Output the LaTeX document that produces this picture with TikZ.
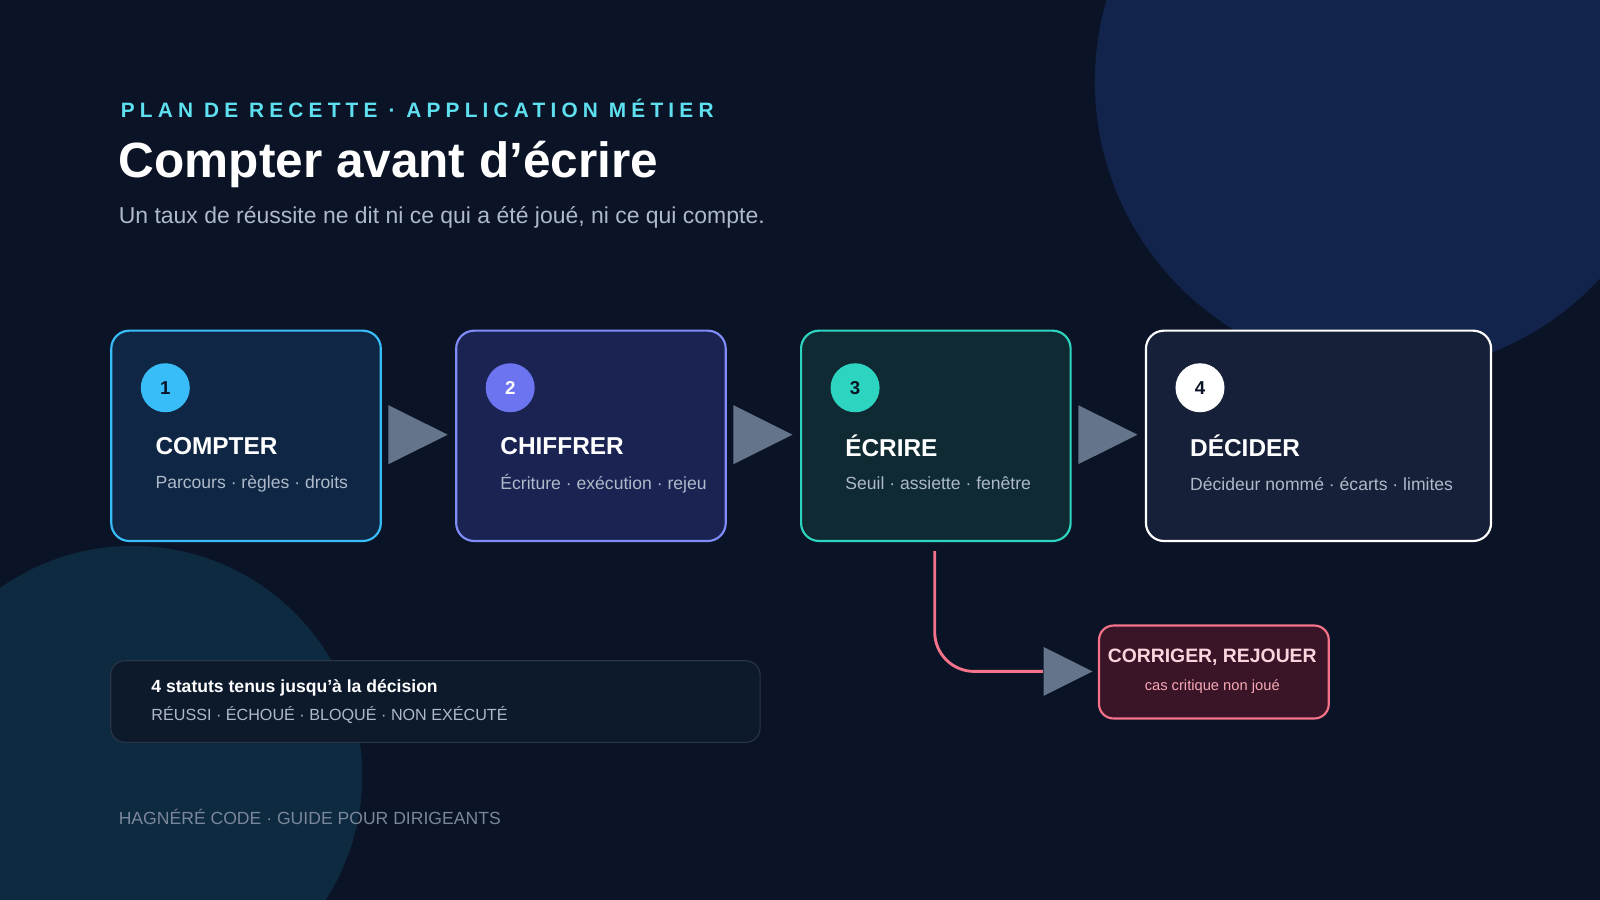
\documentclass[tikz,border=0pt]{standalone}
\usepackage{fontspec}
\setmainfont{Liberation Sans}
\newfontfamily\spaced[LetterSpace=25]{Liberation Sans}
\usetikzlibrary{shapes.geometric,positioning}
\definecolor{bgdark}{HTML}{0B1426}
\definecolor{blobblue}{HTML}{13244C}
\definecolor{blobteal}{HTML}{0E2A40}
\definecolor{kicker}{HTML}{5EE0F0}
\definecolor{subgray}{HTML}{AEB9CA}
\definecolor{arrowgray}{HTML}{64748B}
\definecolor{redline}{HTML}{F4728A}
\definecolor{cyanline}{HTML}{38BDF8}
\definecolor{cyanfill}{HTML}{0F2744}
\definecolor{violetline}{HTML}{818CF8}
\definecolor{violetfill}{HTML}{1A2352}
\definecolor{violetnum}{HTML}{6D74F0}
\definecolor{tealline}{HTML}{2DD4BF}
\definecolor{tealfill}{HTML}{0F2A33}
\definecolor{slatefill}{HTML}{162038}
\definecolor{redfill}{HTML}{3A1427}
\definecolor{redhead}{HTML}{FBD5DC}
\definecolor{redtext}{HTML}{F7A8B6}
\definecolor{noteline}{HTML}{2A3648}
\definecolor{notefill}{HTML}{0D1A2B}
\definecolor{footgray}{HTML}{7A879A}
\begin{document}
\begin{tikzpicture}[x=0.01cm,y=-0.01cm]
    \tikzstyle{stage}=[rounded corners=5pt, line width=0.6pt, minimum width=2.64cm, minimum height=2.06cm, anchor=north west]
    \tikzstyle{num}=[circle, minimum size=0.48cm, inner sep=0pt, font=\fontsize{5.2}{6}\selectfont\bfseries]
    \tikzstyle{head}=[anchor=west, text=white, font=\fontsize{6.8}{8}\selectfont\bfseries]
    \tikzstyle{desc}=[anchor=west, text=subgray, font=\fontsize{4.9}{6}\selectfont]
    \tikzstyle{pointer}=[isosceles triangle, isosceles triangle apex angle=53, fill=arrowgray, minimum height=0.58cm, inner sep=0pt, anchor=west]

    % background
    \useasboundingbox (0,0) rectangle (1568,882);
    \fill[bgdark] (0,0) rectangle (1568,882);
    \begin{scope}
      \clip (0,0) rectangle (1568,882);
      \fill[blobblue] (1358,80) circle (285);
      \fill[blobteal] (130,760) circle (225);
    \end{scope}

    % heading
    \node[anchor=west, text=kicker, font=\fontsize{5.8}{7}\selectfont\bfseries\spaced] (kick) at (106,106) {PLAN DE RECETTE · APPLICATION MÉTIER};
    \node[anchor=west, text=white, font=\fontsize{13.8}{16}\selectfont\bfseries] (title) at (104,161) {Compter avant d’écrire};
    \node[anchor=west, text=subgray, font=\fontsize{6.4}{8}\selectfont] (sub) at (104,213) {Un taux de réussite ne dit ni ce qui a été joué, ni ce qui compte.};

    % stages
    \node[stage, draw=cyanline, fill=cyanfill] (compter) at (108,323) {};
    \node[stage, draw=violetline, fill=violetfill] (chiffrer) at (446,323) {};
    \node[stage, draw=tealline, fill=tealfill] (ecrire) at (784,323) {};
    \node[stage, draw=white, fill=slatefill, minimum width=3.38cm] (decider) at (1122,323) {};

    \node[num, fill=cyanline, text=bgdark] (n1) at (162,380) {1};
    \node[num, fill=violetnum, text=white] (n2) at (500,380) {2};
    \node[num, fill=tealline, text=bgdark] (n3) at (838,380) {3};
    \node[num, fill=white, text=bgdark] (n4) at (1176,380) {4};

    \node[head] (compter head) at (140,437) {COMPTER};
    \node[desc] (compter desc) at (140,474) {Parcours · règles · droits};
    \node[head] (chiffrer head) at (478,437) {CHIFFRER};
    \node[desc] (chiffrer desc) at (478,474) {Écriture · exécution · rejeu};
    \node[head] (ecrire head) at (816,437) {ÉCRIRE};
    \node[desc] (ecrire desc) at (816,474) {Seuil · assiette · fenêtre};
    \node[head] (decider head) at (1154,437) {DÉCIDER};
    \node[desc] (decider desc) at (1154,474) {Décideur nommé · écarts · limites};

    \node[pointer] (p1) at (380,426) {};
    \node[pointer] (p2) at (718,426) {};
    \node[pointer] (p3) at (1056,426) {};

    % failure branch
    \node[rounded corners=4pt, line width=0.6pt, draw=redline, fill=redfill, minimum width=2.25cm, minimum height=0.91cm, anchor=north west] (corriger) at (1076,612) {};
    \node[text=redhead, font=\fontsize{5.4}{6}\selectfont\bfseries] (corriger head) at (1188,644) {CORRIGER, REJOUER};
    \node[text=redtext, font=\fontsize{4.1}{5}\selectfont] (corriger desc) at (1188,673) {cas critique non joué};
    \node[pointer, minimum height=0.48cm] (p4) at (1022,658) {};
    \coordinate (branch) at (916,540);
    \draw[redline, line width=0.8pt, rounded corners=11pt] (branch) |- (p4.west);

    % note
    \node[rounded corners=4pt, line width=0.3pt, draw=noteline, fill=notefill, minimum width=6.36cm, minimum height=0.8cm, anchor=north west] (note) at (108,647) {};
    \node[anchor=west, text=white, font=\fontsize{4.9}{6}\selectfont\bfseries] (note head) at (136,674) {4 statuts tenus jusqu’à la décision};
    \node[anchor=west, text=subgray, font=\fontsize{4.5}{6}\selectfont] (note desc) at (136,701) {RÉUSSI · ÉCHOUÉ · BLOQUÉ · NON EXÉCUTÉ};

    % footer
    \node[anchor=west, text=footgray, font=\fontsize{4.9}{6}\selectfont] (foot) at (104,801) {HAGNÉRÉ CODE · GUIDE POUR DIRIGEANTS};
\end{tikzpicture}
\end{document}
